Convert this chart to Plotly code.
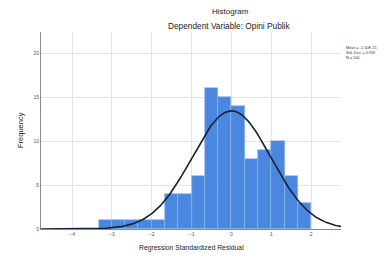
import numpy as np
import plotly.graph_objects as go

# Data
bin_width = 1 / 3
bin_start = -10 / 3
counts = [1, 1, 1, 1, 1, 4, 4, 6, 16, 15, 14, 8, 9, 10, 6, 3]
bin_centers = [bin_start + bin_width * (i + 0.5) for i in range(len(counts))]
stat_mean = -1.10e-15
stat_sd = 0.990
stat_n = 100
x_ticks = [-4, -3, -2, -1, 0, 1, 2]
y_ticks = [0, 5, 10, 15, 20]
legend_lines = ["Mean = -1.10E-15", "Std. Dev. = 0.990", "N = 100"]

xr = [-4.78, 2.75]
xs = np.linspace(xr[0], xr[1], 300)
ys = stat_n * bin_width / (stat_sd * np.sqrt(2 * np.pi)) * np.exp(-0.5 * ((xs - stat_mean) / stat_sd) ** 2)

fig = go.Figure()
fig.add_trace(go.Bar(x=bin_centers, y=counts, width=bin_width,
                     marker=dict(color="#4a88e0", line=dict(color="#8fb6ee", width=0.6)),
                     showlegend=False))
fig.add_trace(go.Scatter(x=xs, y=ys, mode="lines",
                         line=dict(color="#14213a", width=1.6), showlegend=False))

# the page body has an 8px margin, so the figure is shifted by -8px
OFF = 8
font = "Liberation Sans, Arial, sans-serif"
fig.update_layout(
    width=385 - OFF, height=258 - OFF,
    margin=dict(l=41 - OFF, r=44, t=32 - OFF, b=29),
    paper_bgcolor="white", plot_bgcolor="white",
    bargap=0,
    font=dict(family=font, size=5, color="#333"),
    xaxis=dict(range=xr, tickvals=x_ticks, showgrid=True, gridcolor="#e4e4e4", gridwidth=1,
               zeroline=False, showline=True, linecolor="#888", linewidth=1,
               ticks="", tickfont=dict(size=5, color="#555")),
    yaxis=dict(range=[0, 22.4], tickvals=y_ticks, showgrid=True, gridcolor="#e4e4e4", gridwidth=1,
               zeroline=False, showline=True, linecolor="#888", linewidth=1,
               ticks="", tickfont=dict(size=5, color="#555")),
)

def py(p):
    return (229 - p) / 197

def px(p):
    return (p - 41) / 300

fig.add_annotation(text="Histogram", xref="paper", yref="paper", x=px(230), y=py(11.5),
                   showarrow=False, font=dict(size=8, color="#222"), xanchor="center", yanchor="middle")
fig.add_annotation(text="Dependent Variable: Opini Publik", xref="paper", yref="paper", x=px(229), y=py(26),
                   showarrow=False, font=dict(size=8.3, color="#222"), xanchor="center", yanchor="middle")
fig.add_annotation(text="Regression Standardized Residual", xref="paper", yref="paper", x=px(191), y=py(248),
                   showarrow=False, font=dict(size=6.8, color="#222"), xanchor="center", yanchor="middle")
fig.add_annotation(text="Frequency", xref="paper", yref="paper", x=px(20), y=py(130),
                   showarrow=False, textangle=-90, font=dict(size=7.5, color="#222"),
                   xanchor="center", yanchor="middle")
fig.add_annotation(text="<br>".join(legend_lines), xref="paper", yref="paper",
                   x=px(344), y=py(44), showarrow=False, align="left",
                   font=dict(size=3.8, color="#333"), xanchor="left", yanchor="top")

fig.write_html("out.html")
